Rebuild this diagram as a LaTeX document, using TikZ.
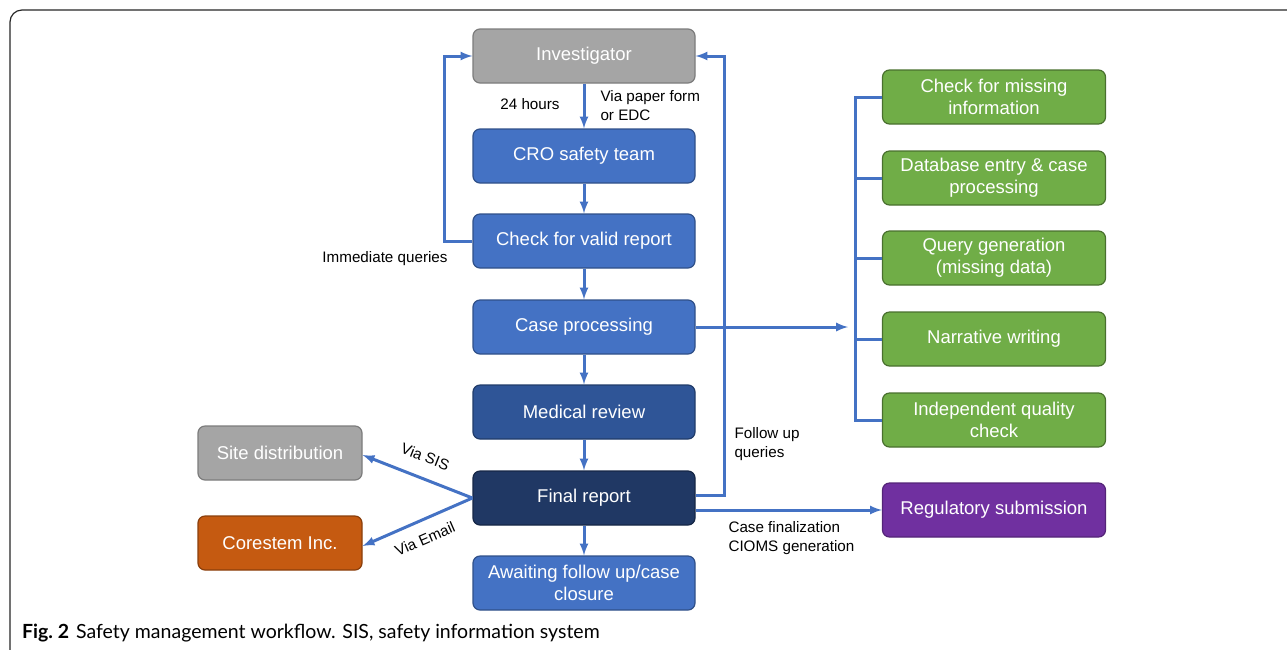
\documentclass[tikz,border=0pt]{standalone}
\usepackage{fontspec}
\setmainfont{Liberation Sans}
\newfontfamily\capfont{Lato}
\definecolor{flowblue}{HTML}{4472C4}
\definecolor{boxgray}{HTML}{A5A5A5}
\definecolor{medblue}{HTML}{2F5597}
\definecolor{navy}{HTML}{203864}
\definecolor{boxgreen}{HTML}{70AD47}
\definecolor{boxpurple}{HTML}{7030A0}
\definecolor{boxorange}{HTML}{C55A11}
\tikzset{
  box/.style={draw, rounded corners=7, minimum width=222, minimum height=54,
    align=center, text=white, line width=1.2,
    font=\fontsize{18.5}{22}\selectfont},
  bluebox/.style={box, fill=flowblue, draw=flowblue!70!black},
  graybox/.style={box, fill=boxgray, draw=boxgray!75!black},
  greenbox/.style={box, fill=boxgreen, draw=boxgreen!65!black, minimum width=223},
  sidebox/.style={minimum width=164},
  flow/.style={draw=flowblue, line width=3, -latex},
  link/.style={draw=flowblue, line width=3},
  lbl/.style={font=\fontsize{15.2}{19}\selectfont, align=left}
}
\begin{document}
\begin{tikzpicture}[x=1pt,y=-1pt]
\useasboundingbox (0,0) rectangle (1287,649);
\draw [black!85, line width=1.2, rounded corners=12](1290,10) -- (10,10) -- (10,655);

% main column
\node [graybox] (inv) at (584,56) {Investigator};
\node [bluebox] (cro) at (584,156) {CRO safety team};
\node [bluebox] (check) at (584,241) {Check for valid report};
\node [bluebox] (case) at (584,327) {Case processing};
\node [bluebox, fill=medblue, draw=medblue!70!black] (med) at (584,412) {Medical review};
\node [bluebox, fill=navy, draw=navy!70!black] (final) at (584,498) {Final report};
\node [bluebox] (await) at (584,583) {Awaiting follow up/case\\closure};

% left side
\node [graybox, sidebox] (site) at (280,453) {Site distribution};
\node [box, sidebox, fill=boxorange, draw=boxorange!70!black] (core) at (280,543) {Corestem Inc.};

% right side
\node [greenbox] (g1) at (994,97) {Check for missing\\information};
\node [greenbox] (g2) at (994,178) {Database entry \& case\\processing};
\node [greenbox] (g3) at (994,258) {Query generation\\(missing data)};
\node [greenbox] (g4) at (994,339) {Narrative writing};
\node [greenbox] (g5) at (994,420) {Independent quality\\check};
\node [box, fill=boxpurple, draw=boxpurple!75!black, minimum width=223] (reg) at (994,510) {Regulatory submission};

\draw [flow](inv) -- (cro);
\draw [flow](cro) -- (check);
\draw [flow](check) -- (case);
\draw [flow](case) -- (med);
\draw [flow](med) -- (final);
\draw [flow](final) -- (await);

\draw [flow](check.west) -- ++(-28,0) |- (inv.west);
\draw [flow]([yshift=3]final.east) -- ++(29,0) |- (inv.east);
\draw [flow](final.east |- reg.west) -- (reg.west);

\coordinate (hub) at (848,327);
\coordinate (brk) at (855,0);
\draw [flow](case.east) -- (hub);
\draw [link](g1.west) -- (g1.west -| brk) -- (g5.west -| brk) -- (g5.west);
\foreach \g in {g2,g3,g4}
  \draw [link](\g.west) -- (\g.west -| brk);

\draw [flow](final.west) -- ([yshift=-2]site.east) node [lbl, midway, sloped, above=11] {Via SIS};
\draw [flow](final.west) -- ([yshift=-3]core.east) node [lbl, midway, sloped, below=8] {Via Email};

\node [lbl] (hrs) at (530,104) {24 hours};
\node [lbl, anchor=west] (via) at (597,106) {Via paper form\\or EDC};
\node [lbl] (imm) at (385,259) {Immediate queries};
\node [lbl, anchor=west] (fup) at (731,444) {Follow up\\queries};
\node [lbl, anchor=west] (fin) at (725,538) {Case finalization\\CIOMS generation};

\node [anchor=base west, inner sep=0, font=\capfont\fontsize{19.5}{22}\selectfont] (cap) at (22,638)
  {\textbf{Fig.~2}\hspace{7pt}Safety management workflow. SIS, safety information system};
\end{tikzpicture}
\end{document}
